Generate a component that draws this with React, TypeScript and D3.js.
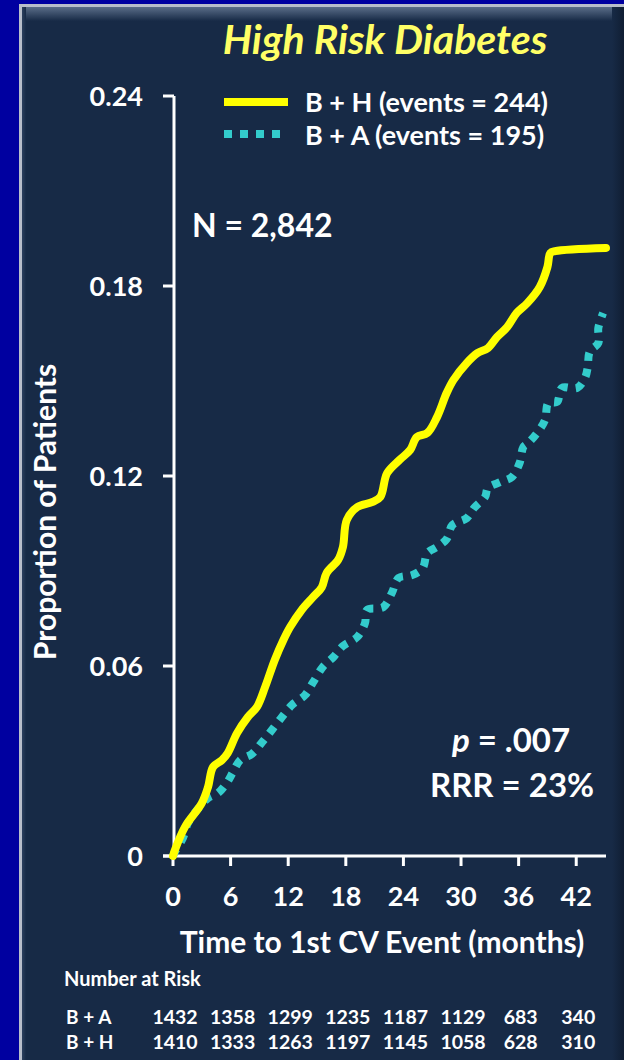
import React from "react";
import * as d3 from "d3";

// ---- Data ----
const monthsBH = [0, 0.2, 1.25, 3.0, 3.65, 4.17, 5.1, 5.7, 6.67, 7.8, 8.75, 9.6, 10.6, 11.5, 12.2, 13.4, 14.6, 15.5, 16.0, 17.2, 17.7, 18.1, 19.2, 20.8, 21.6, 22.3, 23.6, 24.7, 25.4, 26.5, 27.5, 28.5, 29.2, 30.6, 31.7, 32.8, 33.75, 34.8, 35.8, 36.9, 38.2, 39.0, 39.3, 39.8, 45.1];
const valuesBH = [0, 0.0019, 0.0092, 0.0167, 0.0218, 0.0281, 0.0303, 0.0325, 0.0388, 0.0439, 0.0471, 0.0534, 0.0619, 0.0682, 0.0723, 0.0777, 0.0818, 0.0849, 0.0894, 0.0935, 0.0976, 0.1061, 0.1102, 0.1118, 0.1134, 0.1209, 0.1251, 0.1282, 0.1323, 0.1336, 0.1386, 0.1462, 0.1503, 0.1557, 0.1588, 0.1604, 0.1639, 0.167, 0.1715, 0.1746, 0.1797, 0.186, 0.1904, 0.191, 0.192];

const monthsBA = [0, 0.2, 1.04, 1.56, 2.5, 3.65, 4.7, 5.6, 6.25, 7.0, 8.2, 9.3, 10.3, 11.35, 12.4, 13.75, 14.6, 15.6, 16.7, 17.7, 19.2, 20.0, 20.2, 21.9, 22.8, 23.5, 24.9, 26.0, 26.5, 27.5, 28.5, 29.1, 30.6, 31.35, 32.5, 32.8, 34.1, 35.3, 36.1, 36.5, 37.0, 38.0, 38.75, 39.1, 40.0, 40.5, 42.1, 42.9, 43.2, 43.4, 44.3, 44.3, 44.8];
const valuesBA = [0, 0.0013, 0.0057, 0.0104, 0.0145, 0.0183, 0.0199, 0.0231, 0.0265, 0.0303, 0.0322, 0.036, 0.0398, 0.0439, 0.0477, 0.0508, 0.0549, 0.0597, 0.0628, 0.0663, 0.0692, 0.0736, 0.0777, 0.0786, 0.0831, 0.0878, 0.0887, 0.0909, 0.0957, 0.0976, 0.1001, 0.1045, 0.1067, 0.1099, 0.1134, 0.1162, 0.1181, 0.1197, 0.1241, 0.1292, 0.1304, 0.1339, 0.1377, 0.1431, 0.1434, 0.1478, 0.1478, 0.1509, 0.1544, 0.1592, 0.162, 0.1667, 0.1715];

const xTicks = [0, 6, 12, 18, 24, 30, 36, 42];
const yTicks = [0, 0.06, 0.12, 0.18, 0.24];
const yTickLabels = ["0", "0.06", "0.12", "0.18", "0.24"];

const riskMonths = [0, 6, 12, 18, 24, 30, 36, 42];
const riskBA = [1432, 1358, 1299, 1235, 1187, 1129, 683, 340];
const riskBH = [1410, 1333, 1263, 1197, 1145, 1058, 628, 310];

const legendLabels = ["B + H (events = 244)", "B + A (events = 195)"];

const FONT = "Lato, 'Open Sans', sans-serif";
const PANEL = "#172A46";
const YELLOW = "#FFFF00";
const CYAN = "#33CCCC";

export default function App() {
  const W = 624, H = 1060;
  const x = d3.scaleLinear().domain([0, 45.1]).range([173, 606]);
  const y = d3.scaleLinear().domain([0, 0.24]).range([856, 96]);

  const line = d3
    .line<[number, number]>()
    .x((d) => x(d[0]))
    .y((d) => y(d[1]))
    .curve(d3.curveCatmullRom.alpha(0.5));

  const bh = monthsBH.map((m, i) => [m, valuesBH[i]] as [number, number]);
  const ba = monthsBA.map((m, i) => [m, valuesBA[i]] as [number, number]);

  const riskX = (m: number) => x(m) + 2;

  return (
    <svg width={W} height={H} style={{ position: "absolute", left: 0, top: 0 }} fontFamily={FONT}>
      <defs>
        <linearGradient id="topBevel" x1="0" y1="0" x2="0" y2="1">
          <stop offset="0" stopColor="#5A6D88" />
          <stop offset="1" stopColor={PANEL} />
        </linearGradient>
        <linearGradient id="rightBevel" x1="0" y1="0" x2="1" y2="0">
          <stop offset="0" stopColor={PANEL} />
          <stop offset="1" stopColor="#101E33" />
        </linearGradient>
        <linearGradient id="leftBevel" x1="0" y1="0" x2="1" y2="0">
          <stop offset="0" stopColor="#2C405E" />
          <stop offset="1" stopColor={PANEL} />
        </linearGradient>
      </defs>
      {/* background frame */}
      <rect x={0} y={0} width={W} height={H} fill="#0000A0" />
      <rect x={19} y={4} width={W - 19} height={H - 4} fill="#B8BECA" />
      <rect x={22} y={7} width={W - 22} height={H - 7} fill={PANEL} />
      <rect x={22} y={7} width={W - 22} height={14} fill="url(#topBevel)" />
      <rect x={22} y={7} width={4} height={H - 7} fill="url(#leftBevel)" />
      <rect x={612} y={7} width={12} height={H - 7} fill="url(#rightBevel)" />

      {/* title */}
      <text x={385} y={54} textAnchor="middle" fill="#FFFF66" fontSize={41} fontWeight="bold" fontStyle="italic">
        High Risk Diabetes
      </text>

      {/* axes */}
      <g stroke="#FFFFFF" strokeWidth={3} fill="none">
        <line x1={174} y1={96} x2={174} y2={857} />
        <line x1={163} y1={856} x2={606} y2={856} />
        {yTicks.map((t) => (
          <line key={"yt" + t} x1={163} x2={174} y1={y(t)} y2={y(t)} />
        ))}
        {xTicks.map((t) => (
          <line key={"xt" + t} x1={x(t)} x2={x(t)} y1={856} y2={866} />
        ))}
      </g>
      <g fill="#FFFFFF" fontWeight="bold">
        {yTicks.map((t, i) => (
          <text key={"yl" + t} x={143} y={y(t) + 10} textAnchor="end" fontSize={27}>
            {yTickLabels[i]}
          </text>
        ))}
        {xTicks.map((t) => (
          <text key={"xl" + t} x={x(t)} y={906} textAnchor="middle" fontSize={27}>
            {t}
          </text>
        ))}
      </g>
      <text x={382} y={953} textAnchor="middle" fill="#FFFFFF" fontWeight="bold" fontSize={30}>
        Time to 1st CV Event (months)
      </text>
      <text
        transform={`translate(56,512) rotate(-90)`}
        textAnchor="middle"
        fill="#FFFFFF"
        fontWeight="bold"
        fontSize={30}
      >
        Proportion of Patients
      </text>

      {/* curves */}
      <path d={line(ba) || ""} fill="none" stroke={CYAN} strokeWidth={8} strokeDasharray="8 8" />
      <path d={line(bh) || ""} fill="none" stroke={YELLOW} strokeWidth={8} strokeLinejoin="round" strokeLinecap="round" />

      {/* legend */}
      <line x1={224} x2={288} y1={102} y2={102} stroke={YELLOW} strokeWidth={8} />
      <line x1={224} x2={282} y1={134} y2={134} stroke={CYAN} strokeWidth={8} strokeDasharray="8 8" />
      <g fill="#FFFFFF" fontWeight="bold" fontSize={27}>
        <text x={305} y={112}>{legendLabels[0]}</text>
        <text x={305} y={145}>{legendLabels[1]}</text>
      </g>

      <text x={192} y={237} fill="#FFFFFF" fontWeight="bold" fontSize={32}>
        N = 2,842
      </text>

      <g fill="#FFFFFF" fontWeight="bold" fontSize={33} textAnchor="middle">
        <text x={511} y={752}>
          <tspan fontStyle="italic">p</tspan> = .007
        </text>
        <text x={512} y={797}>RRR = 23%</text>
      </g>

      {/* number at risk */}
      <g fill="#FFFFFF" fontWeight="bold">
        <text x={64} y={986} fontSize={20}>Number at Risk</text>
        <text x={66} y={1024} fontSize={19}>B + A</text>
        <text x={66} y={1049} fontSize={19}>B + H</text>
        {riskMonths.map((m, i) => (
          <text key={"ra" + m} x={riskX(m)} y={1024} fontSize={19.5} textAnchor="middle">
            {riskBA[i]}
          </text>
        ))}
        {riskMonths.map((m, i) => (
          <text key={"rh" + m} x={riskX(m)} y={1049} fontSize={19.5} textAnchor="middle">
            {riskBH[i]}
          </text>
        ))}
      </g>
    </svg>
  );
}
